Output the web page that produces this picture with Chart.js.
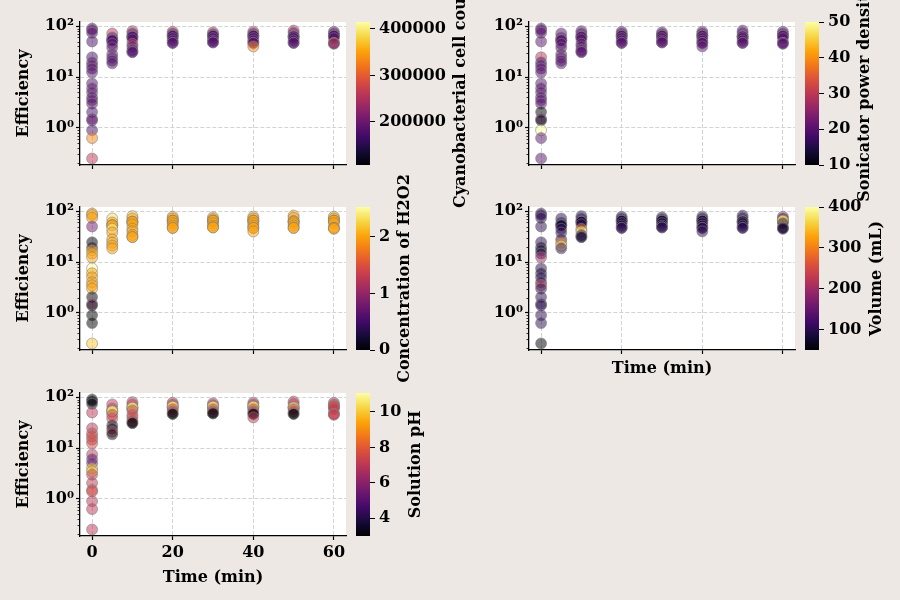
<!DOCTYPE html>
<html>
<head>
<meta charset="utf-8">
<script src="https://cdn.jsdelivr.net/npm/chart.js@4.4.1/dist/chart.umd.min.js"></script>
<style>
  body { margin: 0; background: #ede8e4; }
  #wrap { position: relative; width: 900px; height: 600px; }
  #wrap canvas { position: absolute; left: 0; top: 0; }
</style>
</head>
<body>
<div id="wrap"></div>
<script>
// ---- data (one entry per measurement) ----
const timeMin = [
  0, 0, 0, 0, 0, 0, 0, 0, 0, 0, 0, 0, 0, 0, 0, 0, 0, 0, 0, 0, 0,
  5, 5, 5, 5, 5, 5, 5, 5, 5, 5, 5,
  10, 10, 10, 10, 10, 10, 10, 10, 10, 10, 10,
  20, 20, 20, 20, 20, 20, 20, 20, 20,
  30, 30, 30, 30, 30, 30, 30, 30, 30,
  40, 40, 40, 40, 40, 40, 40, 40, 40, 40,
  50, 50, 50, 50, 50, 50, 50, 50, 50,
  60, 60, 60, 60, 60, 60, 60, 60, 60
];
const efficiency = [
  90, 84, 74, 50, 24.5, 19.5, 17, 14.7, 12.4, 7.5, 6, 5, 4, 3.5, 3, 2.05, 1.5, 1.4, 0.9, 0.63, 0.25,
  72, 60, 53, 53, 53, 45, 38, 28, 24, 21, 18.6,
  80, 72, 62, 62, 62, 55, 45, 40, 34, 31, 31,
  78, 72, 65, 65, 65, 58, 52, 47, 47,
  76, 70, 65, 65, 65, 58, 52, 48, 48,
  78, 72, 65, 65, 65, 58, 52, 47, 47, 40,
  82, 74, 63, 63, 63, 58, 52, 47, 47,
  78, 72, 65, 65, 65, 58, 47, 47, 45
];
const cellCount = [
  185000, 190000, 180000, 170000, 175000, 185000, 195000, 180000, 185000, 175000, 195000, 185000, 180000, 190000, 180000, 175000, 185000, 190000, 175000, 330000, 260000,
  260000, 185000, 175000, 175000, 175000, 190000, 185000, 190000, 180000, 185000, 175000,
  260000, 180000, 175000, 175000, 175000, 185000, 260000, 185000, 190000, 175000, 175000,
  260000, 190000, 175000, 175000, 175000, 185000, 190000, 180000, 180000,
  260000, 190000, 175000, 175000, 175000, 185000, 190000, 180000, 180000,
  260000, 190000, 175000, 175000, 175000, 185000, 190000, 180000, 180000, 330000,
  260000, 190000, 175000, 175000, 175000, 185000, 190000, 180000, 180000,
  185000, 190000, 175000, 175000, 175000, 185000, 280000, 280000, 190000
];
const powerDensity = [
  20, 20, 20, 20, 30, 20, 20, 20, 20, 20, 20, 20, 20, 20, 20, 10, 20, 10, 50, 20, 20,
  20, 20, 20, 20, 20, 20, 20, 20, 20, 20, 20,
  20, 20, 20, 20, 20, 20, 20, 20, 20, 20, 20,
  20, 20, 20, 20, 20, 20, 20, 20, 20,
  20, 20, 20, 20, 20, 20, 20, 20, 20,
  20, 20, 20, 20, 20, 20, 20, 20, 20, 20,
  20, 20, 20, 20, 20, 20, 20, 20, 20,
  20, 20, 20, 20, 20, 20, 20, 20, 20
];
const h2o2 = [
  2.0, 2.0, 2.0, 0.8, 0, 0.2, 2.0, 2.0, 2.0, 2.5, 2.0, 2.0, 2.0, 2.0, 2.0, 0, 1.0, 0, 0, 0, 2.2,
  2.3, 2.0, 2.0, 2.0, 2.0, 2.5, 2.0, 2.0, 2.0, 2.0, 2.0,
  2.2, 2.0, 2.0, 2.0, 2.0, 2.0, 2.0, 2.0, 2.0, 2.0, 2.0,
  2.0, 2.0, 2.0, 2.0, 2.0, 2.0, 2.0, 2.0, 2.0,
  2.0, 2.0, 2.0, 2.0, 2.0, 2.0, 2.0, 2.0, 2.0,
  2.0, 2.0, 2.0, 2.0, 2.0, 2.0, 2.0, 2.0, 2.0, 2.0,
  2.0, 2.0, 2.0, 2.0, 2.0, 2.0, 2.0, 2.0, 2.0,
  2.0, 2.0, 2.0, 2.0, 2.0, 2.0, 2.0, 2.0, 2.0
];
const volume = [
  100, 100, 100, 100, 100, 70, 80, 100, 200, 100, 80, 100, 100, 230, 100, 100, 100, 100, 100, 100, 50,
  100, 100, 80, 80, 80, 100, 100, 100, 300, 380, 100,
  100, 100, 80, 80, 80, 100, 300, 380, 100, 80, 80,
  100, 100, 80, 80, 80, 100, 100, 100, 100,
  100, 100, 80, 80, 80, 100, 100, 100, 100,
  100, 100, 80, 80, 80, 100, 100, 100, 100, 100,
  100, 100, 80, 80, 80, 100, 100, 100, 100,
  200, 100, 370, 370, 370, 100, 50, 50, 100
];
const solutionPH = [
  3, 3.2, 3, 7, 7, 7.5, 7.5, 7.5, 7.5, 7, 5, 5.5, 10, 10, 7, 7, 7.5, 7.5, 7, 7, 7,
  7, 7, 10.5, 10.5, 10.5, 7, 7.5, 3.5, 3, 7, 3,
  7, 7, 10.5, 10.5, 10.5, 7, 7.5, 7.5, 7, 3, 3,
  7, 7, 10.5, 10.5, 10.5, 7, 7, 3, 3,
  7, 7, 10.5, 10.5, 10.5, 7, 7, 3, 3,
  7, 7, 10.5, 10.5, 10.5, 7, 7, 3, 3, 7,
  7, 7, 10.5, 10.5, 10.5, 7, 7, 3, 3,
  7, 7, 7.6, 7.6, 7.6, 7, 7.6, 7.6, 7
];

// ---- axes ----
const xTickValues = [0, 20, 40, 60];
const xRange = [-3, 63];
const yRange = [0.186, 121];
const yMajorTicks = [1, 10, 100];
const yMajorLabels = ['10⁰', '10¹', '10²'];
const yMinorTicks = [0.2, 0.3, 0.4, 0.5, 0.6, 0.7, 0.8, 0.9, 2, 3, 4, 5, 6, 7, 8, 9, 20, 30, 40, 50, 60, 70, 80, 90];

// ---- colour bars ----
const cellRange = [107500, 415000];
const cellTicks = [200000, 300000, 400000];
const powerRange = [10, 50];
const powerTicks = [10, 20, 30, 40, 50];
const h2o2Range = [0, 2.53];
const h2o2Ticks = [0, 1, 2];
const volumeRange = [50, 400];
const volumeTicks = [100, 200, 300, 400];
const phRange = [3, 11.07];
const phTicks = [4, 6, 8, 10];

const INFERNO = ['#000004', '#160b39', '#420a68', '#6a176e', '#932667', '#bc3754',
                 '#dd513a', '#f37819', '#fca50a', '#f6d746', '#fcffa4'];

function hexRgb(h) {
  return [parseInt(h.slice(1, 3), 16), parseInt(h.slice(3, 5), 16), parseInt(h.slice(5, 7), 16)];
}

function inferno(t, alpha) {
  t = Math.max(0, Math.min(1, t));
  const p = t * 10;
  const i = Math.min(9, Math.floor(p));
  const f = p - i;
  const a = hexRgb(INFERNO[i]), b = hexRgb(INFERNO[i + 1]);
  const c = a.map((v, k) => Math.round(v + (b[k] - v) * f));
  return `rgba(${c[0]},${c[1]},${c[2]},${alpha})`;
}

const FONT = { family: '"DejaVu Serif", serif', size: 16, weight: 'bold' };
const CSS_FONT = 'bold 16px "DejaVu Serif", serif';
const GRID = '#d3d3d3';

const panels = [
  { values: cellCount, range: cellRange, ticks: cellTicks, label: 'Cyanobacterial cell count',
    box: [80, 22, 346, 165], yTitle: true, xLabels: false, xTitle: false },
  { values: powerDensity, range: powerRange, ticks: powerTicks, label: 'Sonicator power density',
    box: [529, 22, 795, 165], yTitle: false, xLabels: false, xTitle: false },
  { values: h2o2, range: h2o2Range, ticks: h2o2Ticks, label: 'Concentration of H2O2',
    box: [80, 207, 346, 350], yTitle: true, xLabels: false, xTitle: false },
  { values: volume, range: volumeRange, ticks: volumeTicks, label: 'Volume (mL)',
    box: [529, 207, 795, 350], yTitle: false, xLabels: false, xTitle: true },
  { values: solutionPH, range: phRange, ticks: phTicks, label: 'Solution pH',
    box: [80, 393, 346, 536], yTitle: true, xLabels: true, xTitle: true }
];

const wrap = document.getElementById('wrap');

function newCanvas() {
  const cv = document.createElement('canvas');
  cv.width = 900;
  cv.height = 600;
  wrap.appendChild(cv);
  return cv;
}

const whiteArea = {
  id: 'whiteArea',
  beforeDraw(chart) {
    const { ctx, chartArea: a } = chart;
    ctx.save();
    ctx.fillStyle = '#ffffff';
    ctx.fillRect(a.left, a.top, a.right - a.left, a.bottom - a.top);
    ctx.restore();
  }
};

// short minor ticks on the log axis
const minorTicks = {
  id: 'minorTicks',
  afterDraw(chart) {
    const { ctx, chartArea: a } = chart;
    const ys = chart.scales.y;
    ctx.save();
    ctx.strokeStyle = '#000';
    ctx.lineWidth = 0.8;
    ctx.beginPath();
    yMinorTicks.forEach(v => {
      const y = Math.round(ys.getPixelForValue(v)) + 0.5;
      ctx.moveTo(a.left - 2.5, y);
      ctx.lineTo(a.left, y);
    });
    ctx.stroke();
    ctx.restore();
  }
};

function drawPanel(p) {
  const [L, T, R, B] = p.box;
  const yW = 70;
  const xH = p.xTitle ? (p.xLabels ? 51 : 28) : 10;
  const pts = timeMin.map((t, i) => ({ x: t, y: efficiency[i] }));
  const span = p.range[1] - p.range[0];
  const colors = p.values.map(v => inferno((v - p.range[0]) / span, 0.5));

  new Chart(newCanvas(), {
    type: 'scatter',
    data: {
      datasets: [{
        data: pts,
        backgroundColor: colors,
        borderColor: 'rgba(128,128,128,0.55)',
        borderWidth: 1,
        pointRadius: 5.5,
        pointHoverRadius: 5.5,
        clip: false
      }]
    },
    options: {
      responsive: false,
      animation: false,
      devicePixelRatio: 1,
      events: [],
      layout: { padding: { left: L - yW, top: T, right: 900 - R, bottom: 600 - B - xH } },
      plugins: { legend: { display: false }, tooltip: { enabled: false } },
      scales: {
        x: {
          type: 'linear', min: xRange[0], max: xRange[1], bounds: 'data',
          afterBuildTicks: s => { s.ticks = xTickValues.map(v => ({ value: v })); },
          afterFit: s => { s.height = xH; },
          ticks: { display: p.xLabels, autoSkip: false, maxRotation: 0, font: FONT, color: '#000', padding: 3 },
          grid: { color: GRID, lineWidth: 1, tickColor: '#000', tickLength: 4, tickWidth: 1.2 },
          border: { color: '#000', width: 1.3, dash: [4, 2] },
          title: { display: p.xTitle, text: 'Time (min)', font: FONT, color: '#000', padding: 0 }
        },
        y: {
          type: 'logarithmic', min: yRange[0], max: yRange[1], bounds: 'data',
          afterBuildTicks: s => { s.ticks = yMajorTicks.map(v => ({ value: v })); },
          afterFit: s => { s.width = yW; },
          ticks: {
            autoSkip: false, font: FONT, color: '#000', padding: 2,
            callback: v => { const k = yMajorTicks.indexOf(v); return k >= 0 ? yMajorLabels[k] : ''; }
          },
          grid: { color: GRID, lineWidth: 1, tickColor: '#000', tickLength: 4, tickWidth: 1.2 },
          border: { color: '#000', width: 1.3, dash: [4, 2] },
          title: { display: p.yTitle, text: 'Efficiency', font: FONT, color: '#000', padding: { top: 4, bottom: 0 } }
        }
      }
    },
    plugins: [whiteArea, minorTicks]
  });
}

function drawColorbar(p) {
  const [, T, R, B] = p.box;
  const cbL = R + 10, cbR = R + 24;
  const axW = 80;
  const tickLen = 5, tickPad = 4;

  const gradientBar = {
    id: 'gradientBar',
    beforeDraw(chart) {
      const { ctx, chartArea: a } = chart;
      const ys = chart.scales.y;
      const top = ys.getPixelForValue(p.range[1]);
      const bot = ys.getPixelForValue(p.range[0]);
      const g = ctx.createLinearGradient(0, bot, 0, top);
      INFERNO.forEach((c, i) => g.addColorStop(i / 10, c));
      ctx.save();
      ctx.fillStyle = g;
      ctx.fillRect(a.left, top, a.right - a.left, bot - top);
      ctx.restore();
    },
    afterDraw(chart) {
      const { ctx, chartArea: a } = chart;
      ctx.save();
      ctx.font = CSS_FONT;
      const widest = Math.max(...p.ticks.map(v => ctx.measureText(String(v)).width));
      const x = a.right + tickLen + tickPad + widest + 15;
      const y = (a.top + a.bottom) / 2;
      ctx.translate(x, y);
      ctx.rotate(-Math.PI / 2);
      ctx.textAlign = 'center';
      ctx.textBaseline = 'middle';
      ctx.fillStyle = '#000';
      ctx.fillText(p.label, 0, 0);
      ctx.restore();
    }
  };

  new Chart(newCanvas(), {
    type: 'scatter',
    data: { datasets: [] },
    options: {
      responsive: false,
      animation: false,
      devicePixelRatio: 1,
      events: [],
      layout: { padding: { left: cbL, top: T, right: 900 - cbR - axW, bottom: 600 - B } },
      plugins: { legend: { display: false }, tooltip: { enabled: false } },
      scales: {
        x: { display: false, min: 0, max: 1 },
        y: {
          position: 'right', min: p.range[0], max: p.range[1], bounds: 'data',
          afterBuildTicks: s => { s.ticks = p.ticks.map(v => ({ value: v })); },
          afterFit: s => { s.width = axW; },
          ticks: { autoSkip: false, font: FONT, color: '#000', padding: tickPad, callback: v => String(v) },
          grid: { drawOnChartArea: false, tickColor: '#000', tickLength: tickLen, tickWidth: 1 },
          border: { display: false }
        }
      }
    },
    plugins: [gradientBar]
  });
}

panels.forEach(drawPanel);
panels.forEach(drawColorbar);
</script>
</body>
</html>
